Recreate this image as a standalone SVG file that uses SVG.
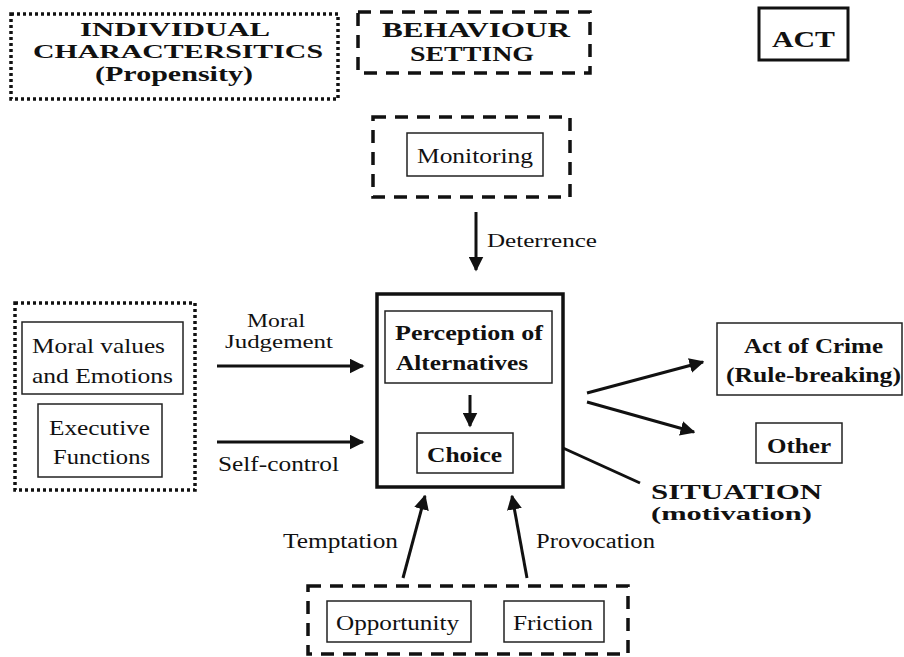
<svg xmlns="http://www.w3.org/2000/svg" width="904" height="657" viewBox="0 0 904 657" font-family="'Liberation Serif', 'Times New Roman', serif">
<style>
text{font-family:'Liberation Serif','Times New Roman',serif;fill:#111}
.b{font-weight:bold}
.box{fill:none;stroke:#222;stroke-width:1.5}
.dash{fill:none;stroke:#111;stroke-width:3.5;stroke-dasharray:13 9}
.dot{fill:none;stroke:#111;stroke-width:3.5;stroke-dasharray:3 3}
.ln{stroke:#111;stroke-width:3;fill:none}
</style>
<defs>
<marker id="ah" viewBox="0 0 10 10" refX="9" refY="5" markerWidth="5" markerHeight="5" markerUnits="strokeWidth" orient="auto">
<path d="M0,0 L10,5 L0,10 z" fill="#111"/>
</marker>
</defs>
<g id="legend-individual">
<rect class="dot" x="11" y="14" width="327" height="85"/>
<text class="b" x="80" y="36" font-size="19" textLength="190" lengthAdjust="spacingAndGlyphs">INDIVIDUAL</text>
<text class="b" x="33" y="58" font-size="19" textLength="290" lengthAdjust="spacingAndGlyphs">CHARACTERSITICS</text>
<text class="b" x="95" y="81" font-size="20" textLength="158" lengthAdjust="spacingAndGlyphs">(Propensity)</text>
</g>
<g id="legend-behaviour">
<rect class="dash" x="358" y="12" width="232" height="61"/>
<text class="b" x="382" y="37" font-size="22" textLength="188" lengthAdjust="spacingAndGlyphs">BEHAVIOUR</text>
<text class="b" x="410" y="61" font-size="22" textLength="124" lengthAdjust="spacingAndGlyphs">SETTING</text>
</g>
<g id="legend-act">
<rect x="759" y="8" width="89" height="52" fill="none" stroke="#111" stroke-width="3"/>
<text class="b" x="772" y="47" font-size="23" textLength="63" lengthAdjust="spacingAndGlyphs">ACT</text>
</g>
<g id="monitoring">
<rect class="dash" x="373" y="117" width="197" height="80"/>
<rect class="box" x="407" y="133" width="136" height="43"/>
<text x="417" y="163" font-size="21" textLength="116" lengthAdjust="spacingAndGlyphs">Monitoring</text>
</g>
<g id="individual">
<rect class="dot" x="15" y="303" width="180" height="187"/>
<g id="moral-values">
<rect class="box" x="22" y="322" width="161" height="72"/>
<text x="32" y="353" font-size="21" textLength="133" lengthAdjust="spacingAndGlyphs">Moral values</text>
<text x="32" y="383" font-size="21" textLength="141" lengthAdjust="spacingAndGlyphs">and Emotions</text>
</g>
<g id="executive">
<rect class="box" x="38" y="404" width="124" height="73"/>
<text x="49" y="435" font-size="21" textLength="101" lengthAdjust="spacingAndGlyphs">Executive</text>
<text x="53" y="464" font-size="21" textLength="97" lengthAdjust="spacingAndGlyphs">Functions</text>
</g>
</g>
<g id="situation">
<rect x="377" y="294" width="186" height="193" fill="none" stroke="#111" stroke-width="3.5"/>
<g id="perception">
<rect class="box" x="385" y="311" width="167" height="72"/>
<text class="b" x="395" y="340" font-size="21" textLength="148" lengthAdjust="spacingAndGlyphs">Perception of</text>
<text class="b" x="396" y="370" font-size="21" textLength="132" lengthAdjust="spacingAndGlyphs">Alternatives</text>
</g>
<g id="choice">
<rect class="box" x="417" y="433" width="96" height="40"/>
<text class="b" x="427" y="462" font-size="22" textLength="75" lengthAdjust="spacingAndGlyphs">Choice</text>
</g>
</g>
<g id="act-of-crime">
<rect class="box" x="717" y="323" width="185" height="72"/>
<text class="b" x="744" y="353" font-size="20" textLength="139" lengthAdjust="spacingAndGlyphs">Act of Crime</text>
<text class="b" x="726" y="382" font-size="20" textLength="175" lengthAdjust="spacingAndGlyphs">(Rule-breaking)</text>
</g>
<g id="other">
<rect class="box" x="756" y="423" width="86" height="40"/>
<text class="b" x="767" y="453" font-size="20" textLength="64" lengthAdjust="spacingAndGlyphs">Other</text>
</g>
<g id="situation-label">
<text class="b" x="651" y="499" font-size="22" textLength="171" lengthAdjust="spacingAndGlyphs">SITUATION</text>
<text class="b" x="651" y="520" font-size="19" textLength="161" lengthAdjust="spacingAndGlyphs">(motivation)</text>
</g>
<g id="setting">
<rect class="dash" x="308" y="586" width="320" height="68"/>
<g id="opportunity">
<rect class="box" x="327" y="601" width="144" height="41"/>
<text x="336" y="630" font-size="21" textLength="123" lengthAdjust="spacingAndGlyphs">Opportunity</text>
</g>
<g id="friction">
<rect class="box" x="504" y="601" width="100" height="41"/>
<text x="513" y="630" font-size="21" textLength="80" lengthAdjust="spacingAndGlyphs">Friction</text>
</g>
</g>
<g id="connectors">
<line class="ln" x1="476" y1="212" x2="476" y2="270" marker-end="url(#ah)"/>
<text x="487" y="247" font-size="19" textLength="110" lengthAdjust="spacingAndGlyphs">Deterrence</text>
<line class="ln" x1="217" y1="366" x2="363" y2="366" marker-end="url(#ah)"/>
<text x="247" y="327" font-size="19" textLength="58" lengthAdjust="spacingAndGlyphs">Moral</text>
<text x="225" y="348" font-size="19" textLength="108" lengthAdjust="spacingAndGlyphs">Judgement</text>
<line class="ln" x1="217" y1="442" x2="363" y2="442" marker-end="url(#ah)"/>
<text x="218" y="471" font-size="20" textLength="121" lengthAdjust="spacingAndGlyphs">Self-control</text>
<line class="ln" x1="470" y1="395" x2="470" y2="426" marker-end="url(#ah)"/>
<line class="ln" x1="587" y1="393" x2="703" y2="362" marker-end="url(#ah)"/>
<line class="ln" x1="587" y1="402" x2="694" y2="432" marker-end="url(#ah)"/>
<line class="ln" x1="563" y1="448" x2="640" y2="483"/>
<line class="ln" x1="403" y1="578" x2="425" y2="496" marker-end="url(#ah)"/>
<text x="283" y="548" font-size="20" textLength="115" lengthAdjust="spacingAndGlyphs">Temptation</text>
<line class="ln" x1="527" y1="578" x2="512" y2="496" marker-end="url(#ah)"/>
<text x="536" y="548" font-size="20" textLength="119" lengthAdjust="spacingAndGlyphs">Provocation</text>
</g>
</svg>
